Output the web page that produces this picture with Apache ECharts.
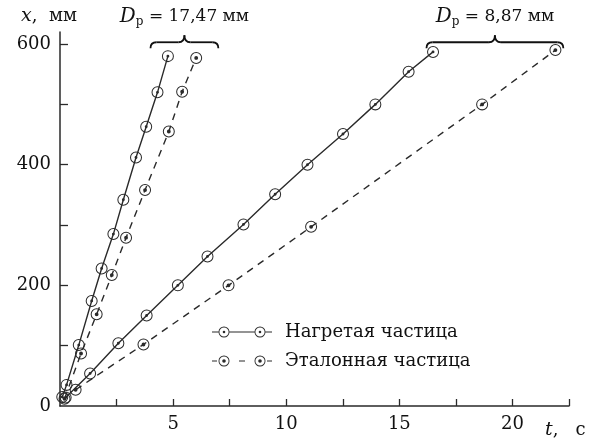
<!DOCTYPE html>
<html><head><meta charset="utf-8">
<script src="https://cdn.jsdelivr.net/npm/echarts@6/dist/echarts.min.js"></script>
<style>html,body{margin:0;padding:0;background:#fff}#c{width:597px;height:443px}</style>
</head><body><div id="c"></div>
<script>
// ---- data ----
const seriesNames = ['Нагретая частица', 'Эталонная частица'];
const heatedFastT = [0.10, 0.29, 0.83, 1.40, 1.84, 2.36, 2.80, 3.36, 3.81, 4.31, 4.77];
const heatedFastX = [15, 35, 101, 174, 228, 285, 342, 412, 463, 520, 580];
const refFastT = [0.20, 0.93, 1.62, 2.29, 2.92, 3.76, 4.81, 5.40, 6.02];
const refFastX = [12, 87, 152, 217, 279, 358, 455, 521, 577];
const heatedSlowT = [0.25, 1.33, 2.58, 3.83, 5.21, 6.52, 8.11, 9.51, 10.94, 12.51, 13.94, 15.41, 16.49];
const heatedSlowX = [14, 54, 104, 150, 200, 248, 301, 351, 400, 451, 500, 554, 587];
const refSlowT = [0.69, 3.69, 7.45, 11.10, 18.66, 21.90];
const refSlowX = [27, 102, 200, 297, 500, 590];
const xTickValues = [2.5, 5, 7.5, 10, 12.5, 15, 17.5, 20, 22.5];
const xLabelValues = [5, 10, 15, 20];
const yTickValues = [100, 200, 300, 400, 500, 600];
const yLabelValues = [0, 200, 400, 600];
const annot1 = {text: ' = 17,47 мм', t0: 4.0, t1: 7.0};
const annot2 = {text: ' = 8,87 мм', t0: 16.2, t1: 22.25};

const FONT = 'DejaVu Serif';
const INK = '#2a2a2a';
function zip(a, b) { return a.map((v, i) => [v, b[i]]); }

const ring = 'M0,-10 A10,10 0 1 1 0,10 A10,10 0 1 1 0,-10 Z M0,-8.3 A8.3,8.3 0 1 0 0,8.3 A8.3,8.3 0 1 0 0,-8.3 Z ';
const symHeated = 'path://' + ring + 'M0,-2.4 A2.4,2.4 0 1 1 0,2.4 A2.4,2.4 0 1 1 0,-2.4 Z';
const symRef = 'path://' + ring + 'M0,-3.2 A3.2,3.2 0 1 1 0,3.2 A3.2,3.2 0 1 1 0,-3.2 Z';

function circ(cx, cy, r, sweep) {
  return `M${cx},${cy - r} A${r},${r} 0 1 ${sweep} ${cx},${cy + r} A${r},${r} 0 1 ${sweep} ${cx},${cy - r} Z `;
}
function rect(x0, x1, y0, y1) { return `M${x0},${y0} L${x1},${y0} L${x1},${y1} L${x0},${y1} Z `; }
function legendIcon(segs, dotR) {
  let p = '';
  segs.forEach(s => { p += rect(s[0], s[1], 4.9, 6.1); });
  [12, 48].forEach(cx => { p += circ(cx, 5.5, 5.5, 1) + circ(cx, 5.5, 4.6, 0) + circ(cx, 5.5, dotR, 1); });
  return 'path://' + p;
}
const iconHeated = legendIcon([[0, 6.5], [17.5, 42.5], [53.5, 60]], 1.3);
const iconRef = legendIcon([[0, 5], [27, 33], [55, 60]], 1.8);

function lineSeries(name, data, sym, dashed) {
  return {
    type: 'line', name: name, data: data, symbol: sym, symbolSize: 12,
    showAllSymbol: true, animation: false, z: 3,
    lineStyle: {color: INK, width: 1.4, type: dashed ? [7, 6] : 'solid'},
    itemStyle: {color: INK, borderWidth: 0}
  };
}

const chart = echarts.init(document.getElementById('c'), null, {renderer: 'canvas'});
const option = {
  animation: false,
  backgroundColor: '#fff',
  grid: {left: 60, right: 28, top: 32, bottom: 37},
  xAxis: {
    type: 'value', min: 0, max: 22.5,
    axisLine: {lineStyle: {color: INK, width: 1.5}},
    axisTick: {inside: true, length: 7, customValues: xTickValues, lineStyle: {color: INK, width: 1.3}},
    axisLabel: {customValues: xLabelValues, color: '#111', fontFamily: FONT, fontSize: 18, margin: 9},
    splitLine: {show: false}
  },
  yAxis: {
    type: 'value', min: 0, max: 620,
    axisLine: {show: true, lineStyle: {color: INK, width: 1.5}},
    axisTick: {show: true, inside: true, length: 8, customValues: yTickValues, lineStyle: {color: INK, width: 1.3}},
    axisLabel: {customValues: yLabelValues, color: '#111', fontFamily: FONT, fontSize: 18, margin: 9},
    splitLine: {show: false}
  },
  legend: {
    orient: 'vertical', left: 207, top: 318, itemWidth: 60, itemHeight: 11, itemGap: 11,
    textStyle: {fontFamily: FONT, fontSize: 18, color: '#111', padding: [0, 0, 0, 8]},
    data: [{name: seriesNames[0], icon: iconHeated}, {name: seriesNames[1], icon: iconRef}]
  },
  series: [
    lineSeries(seriesNames[0], zip(heatedFastT, heatedFastX), symHeated, false),
    lineSeries(seriesNames[1], zip(refFastT, refFastX), symRef, true),
    lineSeries(seriesNames[0], zip(heatedSlowT, heatedSlowX), symHeated, false),
    lineSeries(seriesNames[1], zip(refSlowT, refSlowX), symRef, true)
  ]
};
chart.setOption(option);

function brace(a, yData) {
  const p0 = chart.convertToPixel({gridIndex: 0}, [a.t0, yData]);
  const p1 = chart.convertToPixel({gridIndex: 0}, [a.t1, yData]);
  const x1 = p0[0], x2 = p1[0], y = p0[1], xm = (x1 + x2) / 2;
  const st = {fill: null, stroke: '#111', lineWidth: 1.8};
  const q = (ax, ay, cx, cy, bx, by) => ({type: 'bezierCurve', shape: {x1: ax, y1: ay, cpx1: cx, cpy1: cy, x2: bx, y2: by}, style: st});
  const l = (ax, bx) => ({type: 'line', shape: {x1: ax, y1: y, x2: bx, y2: y}, style: st});
  return [
    q(x1, y + 6, x1, y, x1 + 6, y), l(x1 + 6, xm - 6), q(xm - 6, y, xm, y, xm, y - 7),
    q(xm, y - 7, xm, y, xm + 6, y), l(xm + 6, x2 - 6), q(x2 - 6, y, x2, y, x2, y + 6),
    {type: 'text', x: xm, y: 17,
     style: {text: '{i|D}{s|р}{n|' + a.text + '}', align: 'center', verticalAlign: 'middle',
       rich: {i: {fontFamily: FONT, fontStyle: 'italic', fontSize: 20, fill: '#111'},
              s: {fontFamily: FONT, fontSize: 12, fill: '#111', padding: [10, 0, 0, 0]},
              n: {fontFamily: FONT, fontSize: 17, fill: '#111'}}}}
  ];
}
const yb = 603;
chart.setOption({
  graphic: [].concat(brace(annot1, yb), brace(annot2, yb), [
    {type: 'text', x: 21, y: 16, style: {text: '{i|x}{n|,  мм}', verticalAlign: 'middle',
      rich: {i: {fontFamily: FONT, fontStyle: 'italic', fontSize: 19, fill: '#111'}, n: {fontFamily: FONT, fontSize: 18, fill: '#111'}}}},
    {type: 'text', x: 545, y: 430, style: {text: '{i|t}{n|,   c}', verticalAlign: 'middle',
      rich: {i: {fontFamily: FONT, fontStyle: 'italic', fontSize: 19, fill: '#111'}, n: {fontFamily: FONT, fontSize: 18, fill: '#111'}}}}
  ])
});
</script>
</body></html>
